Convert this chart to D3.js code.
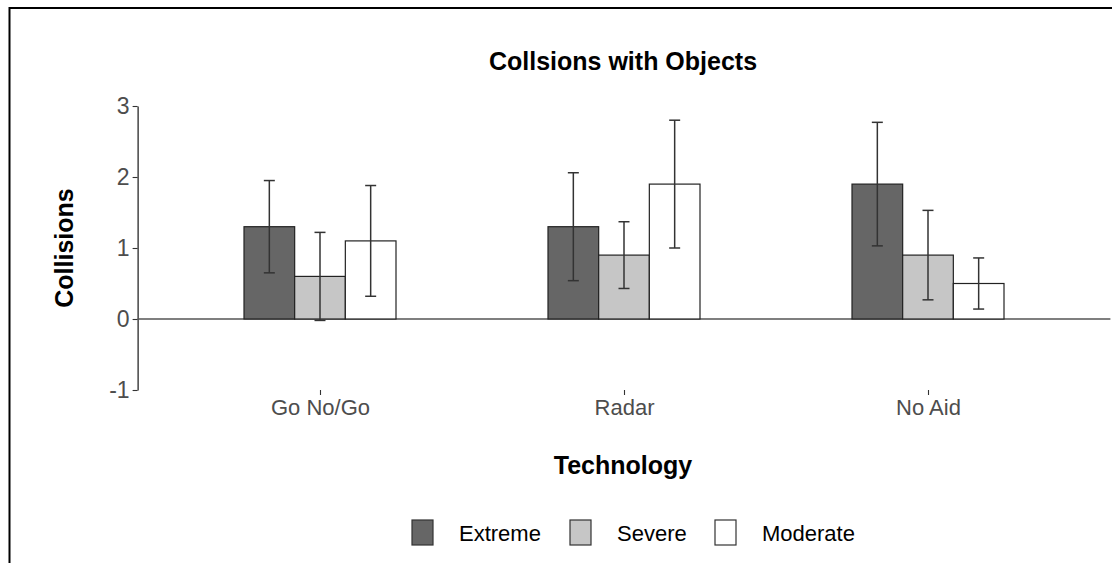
<!DOCTYPE html>
<html>
<head>
  <meta charset="utf-8">
  <title>Collsions with Objects</title>
  <script src="https://d3js.org/d3.v7.min.js"></script>
  <style>
    body { margin: 0; background: #fff; }
    svg { display: block; font-family: "Liberation Sans", Arial, sans-serif; }
  </style>
</head>
<body>
<svg class="chart"></svg>
<script>

// Data
const categories = ["Go No/Go", "Radar", "No Aid"];
const severities = ["Extreme", "Severe", "Moderate"];
const extreme = [1.3, 1.3, 1.9];
const severe = [0.6, 0.9, 0.9];
const moderate = [1.1, 1.9, 0.5];
const extremeErr = [0.65, 0.76, 0.87];
const severeErr = [0.62, 0.47, 0.63];
const moderateErr = [0.78, 0.9, 0.36];
const yTicks = [-1, 0, 1, 2, 3];

const fills = {Extreme: "#666666", Severe: "#c6c6c6", Moderate: "#ffffff"};

const W = 1112, H = 563;
const panel = {left: 137.6, right: 1110.4, top: 106, bottom: 390};

const svg = d3.select(".chart")
  .attr("width", W)
  .attr("height", H);

// outer frame (top and left edges visible)
svg.append("line").attr("x1", 9.5).attr("x2", W).attr("y1", 8).attr("y2", 8)
  .attr("stroke", "#000").attr("stroke-width", 2);
svg.append("line").attr("x1", 9.5).attr("x2", 9.5).attr("y1", 7).attr("y2", H)
  .attr("stroke", "#000").attr("stroke-width", 2);

// build rows from the arrays
const values = {Extreme: extreme, Severe: severe, Moderate: moderate};
const errs = {Extreme: extremeErr, Severe: severeErr, Moderate: moderateErr};
const rows = [];
categories.forEach((c, i) => {
  severities.forEach(s => {
    rows.push({tech: c, sev: s, value: values[s][i], err: errs[s][i]});
  });
});

// scales
const x = d3.scalePoint()
  .domain(categories)
  .range([panel.left, panel.right])
  .padding(0.6);

const dodge = d3.scaleBand()
  .domain(severities)
  .range([-x.step() * 0.25, x.step() * 0.25]);

const y = d3.scaleLinear()
  .domain([-1, 3])
  .range([panel.bottom, panel.top]);

// y axis
const yAxis = svg.append("g")
  .attr("transform", `translate(${panel.left},0)`)
  .call(d3.axisLeft(y).tickValues(yTicks).tickFormat(d => String(d)).tickSize(5).tickSizeOuter(0).tickPadding(3));
yAxis.select(".domain").attr("stroke", "#000").attr("stroke-width", 1.1);
yAxis.selectAll(".tick line").attr("stroke", "#333").attr("stroke-width", 1.1);
yAxis.selectAll(".tick text")
  .style("font-size", "23px")
  .attr("fill", "#4d4d4d");

// x axis (ticks and labels only)
const xAxis = svg.append("g")
  .attr("transform", `translate(0,${panel.bottom})`)
  .call(d3.axisBottom(x).tickSize(5).tickPadding(4));
xAxis.select(".domain").remove();
xAxis.selectAll(".tick line").attr("stroke", "#333").attr("stroke-width", 1.1);
xAxis.selectAll(".tick text")
  .style("font-size", "22px")
  .attr("fill", "#4d4d4d");

// zero line
svg.append("line")
  .attr("x1", panel.left).attr("x2", panel.right)
  .attr("y1", y(0)).attr("y2", y(0))
  .attr("stroke", "#555555").attr("stroke-width", 1.6);

// bars
svg.append("g").selectAll("rect")
  .data(rows)
  .join("rect")
    .attr("x", d => x(d.tech) + dodge(d.sev))
    .attr("y", d => y(d.value))
    .attr("width", dodge.bandwidth())
    .attr("height", d => y(0) - y(d.value))
    .attr("fill", d => fills[d.sev])
    .attr("stroke", "#222")
    .attr("stroke-width", 1.2);

// error bars
const capHalf = 5.5;
const eb = svg.append("g").attr("stroke", "#333").attr("stroke-width", 1.5);
rows.forEach(d => {
  const cx = x(d.tech) + dodge(d.sev) + dodge.bandwidth() / 2;
  const hi = y(d.value + d.err), lo = y(d.value - d.err);
  eb.append("line").attr("x1", cx).attr("x2", cx).attr("y1", hi).attr("y2", lo);
  eb.append("line").attr("x1", cx - capHalf).attr("x2", cx + capHalf).attr("y1", hi).attr("y2", hi);
  eb.append("line").attr("x1", cx - capHalf).attr("x2", cx + capHalf).attr("y1", lo).attr("y2", lo);
});

// title and axis titles
const midX = (panel.left + panel.right) / 2 - 1;
svg.append("text")
  .attr("x", midX).attr("y", 70)
  .attr("text-anchor", "middle")
  .style("font-size", "25px").style("font-weight", "bold")
  .text("Collsions with Objects");

svg.append("text")
  .attr("x", midX).attr("y", 474)
  .attr("text-anchor", "middle")
  .style("font-size", "25px").style("font-weight", "bold")
  .text("Technology");

svg.append("text")
  .attr("transform", `translate(73,248) rotate(-90)`)
  .attr("text-anchor", "middle")
  .style("font-size", "25px").style("font-weight", "bold")
  .text("Collisions");

// legend
const legendX = [412, 570, 715];
const legend = svg.append("g");
severities.forEach((s, i) => {
  const g = legend.append("g").attr("transform", `translate(${legendX[i]},520)`);
  g.append("rect")
    .attr("width", 21).attr("height", 25)
    .attr("fill", fills[s])
    .attr("stroke", "#333").attr("stroke-width", 1.2);
  g.append("text")
    .attr("x", 47).attr("y", 21)
    .style("font-size", "22px")
    .attr("fill", "#000")
    .text(s);
});

</script>
</html>
